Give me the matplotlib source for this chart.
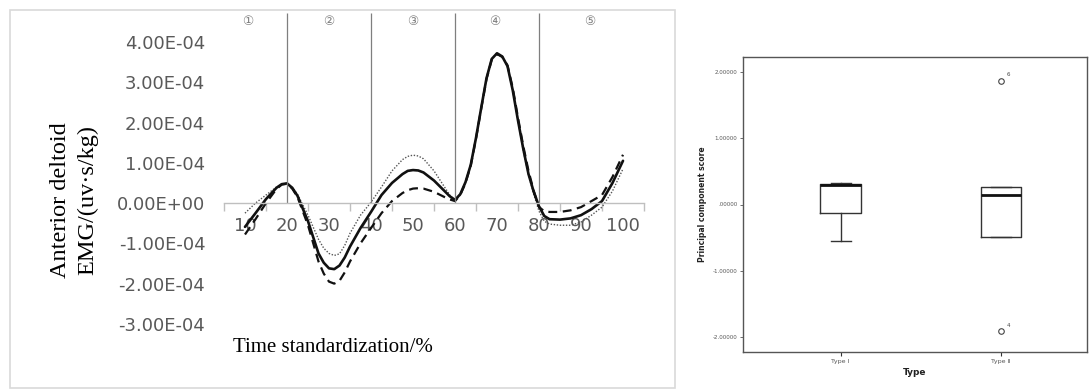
import numpy as np
import matplotlib; matplotlib.use("Agg")
import matplotlib.pyplot as plt
from matplotlib.patches import Rectangle
from matplotlib.ticker import FuncFormatter

# ---- left panel: anterior deltoid EMG (values in units of 1e-4 uv*s/kg) ----
pct = [10, 12.5, 15, 17.5, 18.75, 20, 21.25, 22.5, 25, 27.5, 28.75, 30,
       31.25, 32.5, 33.75, 35, 37.5, 40, 42.5, 45, 47.5, 48.75, 50, 51.25,
       52.5, 55, 57.5, 58.75, 60, 61.25, 62.5, 63.75, 65, 66.25, 67.5, 68.75,
       70, 71.25, 72.5, 73.75, 75, 76.25, 77.5, 78.75, 80, 81.25, 82.5, 85,
       87.5, 90, 92.5, 95, 97.5, 100]
emg_solid = [-0.59, -0.25, 0.10, 0.38, 0.47, 0.49, 0.38, 0.18, -0.45, -1.25, -1.48, -1.62,
             -1.64, -1.55, -1.35, -1.08, -0.62, -0.22, 0.20, 0.50, 0.72, 0.80, 0.82, 0.81,
             0.76, 0.56, 0.30, 0.17, 0.08, 0.22, 0.52, 0.95, 1.62, 2.37, 3.10, 3.58,
             3.72, 3.64, 3.40, 2.80, 2.05, 1.35, 0.72, 0.28, -0.08, -0.32, -0.40, -0.41,
             -0.38, -0.30, -0.15, 0.05, 0.50, 1.05]
emg_dashed = [-0.78, -0.40, 0.00, 0.35, 0.46, 0.48, 0.36, 0.15, -0.55, -1.45, -1.75, -1.95,
              -2.00, -1.93, -1.72, -1.45, -1.00, -0.62, -0.25, 0.05, 0.25, 0.32, 0.36, 0.37,
              0.36, 0.28, 0.15, 0.09, 0.05, 0.20, 0.50, 0.93, 1.60, 2.35, 3.08, 3.56,
              3.70, 3.63, 3.42, 2.86, 2.12, 1.42, 0.80, 0.30, -0.10, -0.20, -0.22, -0.22,
              -0.18, -0.10, 0.05, 0.20, 0.65, 1.20]
emg_dotted = [-0.25, 0.00, 0.20, 0.40, 0.47, 0.48, 0.38, 0.22, -0.30, -0.90, -1.12, -1.25,
              -1.30, -1.26, -1.05, -0.75, -0.30, 0.02, 0.40, 0.80, 1.08, 1.16, 1.19, 1.17,
              1.10, 0.80, 0.40, 0.20, 0.05, 0.20, 0.52, 0.95, 1.62, 2.37, 3.10, 3.58,
              3.72, 3.64, 3.40, 2.80, 2.05, 1.30, 0.70, 0.22, -0.20, -0.45, -0.52, -0.55,
              -0.55, -0.47, -0.30, -0.10, 0.30, 0.85]
phase_edges = [20, 40, 60, 80]
phase_marks = ["①", "②", "③", "④", "⑤"]
phase_pos = [10.7, 30, 50, 69.5, 92]
x_ticks = [10, 20, 30, 40, 50, 60, 70, 80, 90, 100]
y_ticks = [-3, -2, -1, 0, 1, 2, 3, 4]
SCALE = 1e-4

# ---- right panel: principal component score boxplot ----
types = ["Type Ⅰ", "Type Ⅱ"]
q1 = [-0.125, -0.49]
med = [0.30, 0.14]
q3 = [0.31, 0.27]
whis_lo = [-0.55, -0.49]
whis_hi = [0.32, 0.27]
outliers = [[], [1.865, -1.905]]
outlier_ids = [[], ["6", "4"]]
pc_ticks = [-2, -1, 0, 1, 2]

W, H = 1089, 390
fig = plt.figure(figsize=(W / 100, H / 100), dpi=100)

# outer frame of the left picture
fig.patches.append(Rectangle((10 / W, 1 - 388 / H), 665 / W, 378 / H,
                             transform=fig.transFigure, fill=False,
                             edgecolor="#d9d9d9", lw=1.2))

ax = fig.add_axes([224 / W, 1 - 336 / H, 420 / W, 323 / H])
ax.set_xlim(5, 105)
ax.set_ylim(-3.3 * SCALE, 4.72 * SCALE)

t = np.array(pct)
ax.plot(t, np.array(emg_dotted) * SCALE, color="#555555", lw=1.0, ls=(0, (1, 1.2)))
ax.plot(t, np.array(emg_dashed) * SCALE, color="#111111", lw=1.6, ls=(0, (4, 2.5)),
        solid_joinstyle="round")
ax.plot(t, np.array(emg_solid) * SCALE, color="#111111", lw=1.9,
        solid_joinstyle="round", solid_capstyle="round")

ax.vlines(phase_edges, 0, 4.72 * SCALE, color="#7f7f7f", lw=0.9)
for lab, p in zip(phase_marks, phase_pos):
    ax.text(p, 4.5 * SCALE, lab, ha="center", va="center", fontsize=9,
            color="#7f7f7f", family=["DejaVu Sans", "Noto Sans CJK SC"])

for s in ["top", "right", "left"]:
    ax.spines[s].set_visible(False)
ax.spines["bottom"].set_position(("data", 0))
ax.spines["bottom"].set_color("#bfbfbf")
ax.spines["bottom"].set_linewidth(1.0)

ax.set_xticks(x_ticks)
ax.set_xticks(np.arange(5, 106, 10), minor=True)
ax.tick_params(axis="x", which="major", length=0, pad=10, labelsize=13,
               labelcolor="#595959")
ax.tick_params(axis="x", which="minor", length=6, color="#bfbfbf", width=1)
ax.set_yticks([v * SCALE for v in y_ticks])
ax.yaxis.set_major_formatter(FuncFormatter(lambda v, _: f"{v:.2E}"))
ax.tick_params(axis="y", length=0, pad=13.5, labelsize=13, labelcolor="#595959")

fig.text(74 / W, 1 - 200 / H, "Anterior deltoid\nEMG/(uv·s/kg)", rotation=90,
         ha="center", va="center", fontsize=17.5, family="Liberation Serif",
         linespacing=1.4, multialignment="center")
fig.text(333 / W, 1 - 347 / H, "Time standardization/%", ha="center", va="center",
         fontsize=15, family="Liberation Serif")

# ---- boxplot ----
bx = fig.add_axes([743 / W, 1 - 352 / H, 344 / W, 295 / H])
stats = []
for i in range(len(types)):
    stats.append(dict(med=med[i], q1=q1[i], q3=q3[i], whislo=whis_lo[i],
                      whishi=whis_hi[i], fliers=outliers[i], label=types[i]))
bx.bxp(stats, positions=[1, 2], widths=0.25, showcaps=True,
       boxprops=dict(color="#333333", lw=1.0),
       whiskerprops=dict(color="#333333", lw=1.0),
       capprops=dict(color="#333333", lw=1.0),
       medianprops=dict(color="#111111", lw=2.0),
       flierprops=dict(marker="o", markersize=4, markerfacecolor="white",
                       markeredgecolor="#444444", markeredgewidth=0.8))
for i in range(len(types)):
    for v, lab in zip(outliers[i], outlier_ids[i]):
        bx.annotate(lab, (i + 1, v), xytext=(4, 3), textcoords="offset points",
                    fontsize=4, color="#444444")

bx.set_xlim(0.392, 2.536)
bx.set_ylim(-2.22, 2.22)
bx.set_yticks(pc_ticks)
bx.set_yticklabels([f"{v:.5f}".replace("0.", ".") if v == 0 else f"{v:.5f}"
                    for v in pc_ticks])
bx.tick_params(axis="y", length=2.5, width=0.6, labelsize=4, color="#555555",
               labelcolor="#555555", pad=1.5)
bx.tick_params(axis="x", length=3, width=0.8, labelsize=4.5, color="#333333",
               labelcolor="#555555", pad=2)
bx.set_xticklabels(types, family=["DejaVu Sans", "Noto Sans CJK SC"])
for s in bx.spines.values():
    s.set_color("#555555")
    s.set_linewidth(1.0)
bx.set_xlabel("Type", fontsize=6.5, fontweight="bold", labelpad=3, color="#222222")
bx.set_ylabel("Principal component score", fontsize=5.5, fontweight="bold",
              labelpad=4, color="#222222")

fig.savefig("out.png", dpi=100)
